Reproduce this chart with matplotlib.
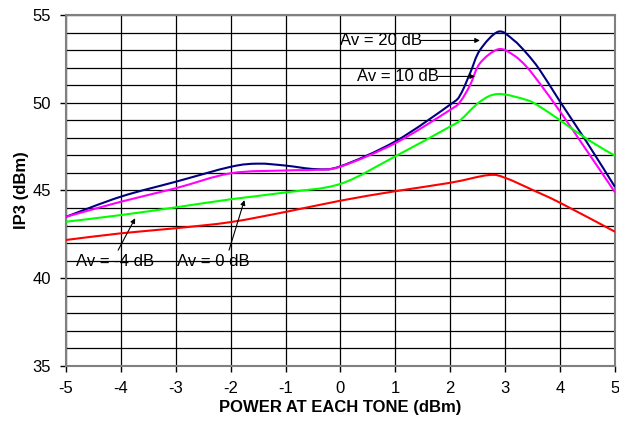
import numpy as np
import matplotlib
matplotlib.use('Agg')
import matplotlib.pyplot as plt
from matplotlib.path import Path
from matplotlib.patches import PathPatch

plt.rcParams['font.family'] = ['Liberation Sans', 'DejaVu Sans']
plt.rcParams['axes.unicode_minus'] = False

# Av = 20 dB
x_20 = [-5, -4, -3, -2, -1.5, -1, -0.45, 0, 1, 2, 2.18, 2.36, 2.54,
        2.875, 3.15, 3.39, 3.63, 4, 4.5, 5]
y_20 = [43.5, 44.65, 45.5, 46.35, 46.53, 46.42, 46.22, 46.38, 47.8, 49.9,
        50.44, 51.68, 53.0, 54.05, 53.58, 52.82, 51.87, 50.06, 47.69, 45.2]
# Av = 10 dB
x_10 = [-5, -4, -3, -2, -1, -0.45, 0, 1, 2, 2.18, 2.36, 2.54,
        2.875, 3.15, 3.39, 3.63, 4, 4.5, 5]
y_10 = [43.5, 44.36, 45.13, 45.98, 46.14, 46.18, 46.36, 47.7, 49.6,
        50.06, 51.0, 52.25, 53.05, 52.72, 52.05, 51.1, 49.5, 47.21, 44.9]
# Av = 4 dB (green)
x_4 = [-5, -4, -3, -2, -1, 0, 1, 2, 2.18, 2.54, 2.875, 3.39,
       3.63, 4, 4.5, 5]
y_4 = [43.22, 43.6, 44.04, 44.5, 44.89, 45.38, 46.95, 48.65,
       49.0, 50.06, 50.5, 50.16, 49.78, 49.0, 47.91, 46.98]
# Av = 0 dB (red)
x_0 = [-5, -4, -3, -2, -1, 0, 1, 2, 2.7, 3, 3.5, 4, 5]
y_0 = [42.18, 42.56, 42.85, 43.2, 43.78, 44.42, 44.96, 45.44, 45.88,
       45.72, 45.03, 44.3, 42.65]

series = [(x_20, y_20, '#000080'), (x_10, y_10, '#ff00ff'),
          (x_4, y_4, '#00ff00'), (x_0, y_0, '#ff0000')]


def smooth_path(xs, ys, t=1/6):
    # Excel-style smoothed line: Catmull-Rom segments drawn as cubic Beziers
    p = np.column_stack([xs, ys]).astype(float)
    verts = [p[0]]
    codes = [Path.MOVETO]
    n = len(p)
    for i in range(n - 1):
        p0 = p[i - 1] if i > 0 else p[i]
        p1, p2 = p[i], p[i + 1]
        p3 = p[i + 2] if i + 2 < n else p[i + 1]
        c1 = p1 + (p2 - p0) * t
        c2 = p2 - (p3 - p1) * t
        verts += [c1, c2, p2]
        codes += [Path.CURVE4] * 3
    return Path(verts, codes)


fig = plt.figure(figsize=(6.19, 4.23), dpi=100)
ax = fig.add_axes([0.1066, 0.1348, 0.8869, 0.8297])

for xs, ys, c in series:
    ax.add_patch(PathPatch(smooth_path(xs, ys), facecolor='none',
                           edgecolor=c, lw=1.5, zorder=3))

fs = 12
ax.set_xlim(-5, 5)
ax.set_ylim(35, 55)
ax.set_xticks(np.arange(-5, 6, 1))
ax.set_yticks(np.arange(35, 56, 5))
ax.set_yticks(np.arange(35, 56, 1), minor=True)
ax.tick_params(axis='y', which='minor', length=0)
ax.tick_params(which='major', direction='out', length=4, width=1,
               color='black', labelsize=fs, pad=7)
ax.grid(True, which='both', axis='y', color='black', lw=0.9, zorder=1)
ax.grid(True, which='major', axis='x', color='black', lw=0.9, zorder=1)
for sp in ax.spines.values():
    sp.set_color('#808080')
    sp.set_linewidth(1.5)

ax.set_xlabel('POWER AT EACH TONE (dBm)', fontsize=fs, fontweight='bold',
              labelpad=3)
ax.set_ylabel('IP3 (dBm)', fontsize=fs, fontweight='bold', labelpad=2)

arrow = dict(arrowstyle='-|>', color='black', lw=0.8,
             mutation_scale=7, shrinkA=0, shrinkB=0)
ax.text(1.49, 53.55, 'Av = 20 dB', fontsize=fs, ha='right', va='center')
ax.annotate('', xy=(2.54, 53.55), xytext=(1.47, 53.55), arrowprops=arrow)
ax.text(1.8, 51.5, 'Av = 10 dB', fontsize=fs, ha='right', va='center')
ax.annotate('', xy=(2.45, 51.5), xytext=(1.78, 51.5), arrowprops=arrow)
ax.text(-4.82, 40.95, 'Av = -4 dB', fontsize=fs, va='center', ha='left')
ax.annotate('', xy=(-3.74, 43.42), xytext=(-4.05, 41.6), arrowprops=arrow)
ax.text(-2.97, 40.95, 'Av = 0 dB', fontsize=fs, va='center', ha='left')
ax.annotate('', xy=(-1.75, 44.45), xytext=(-2.03, 41.6), arrowprops=arrow)

fig.savefig('out.png', dpi=100)
